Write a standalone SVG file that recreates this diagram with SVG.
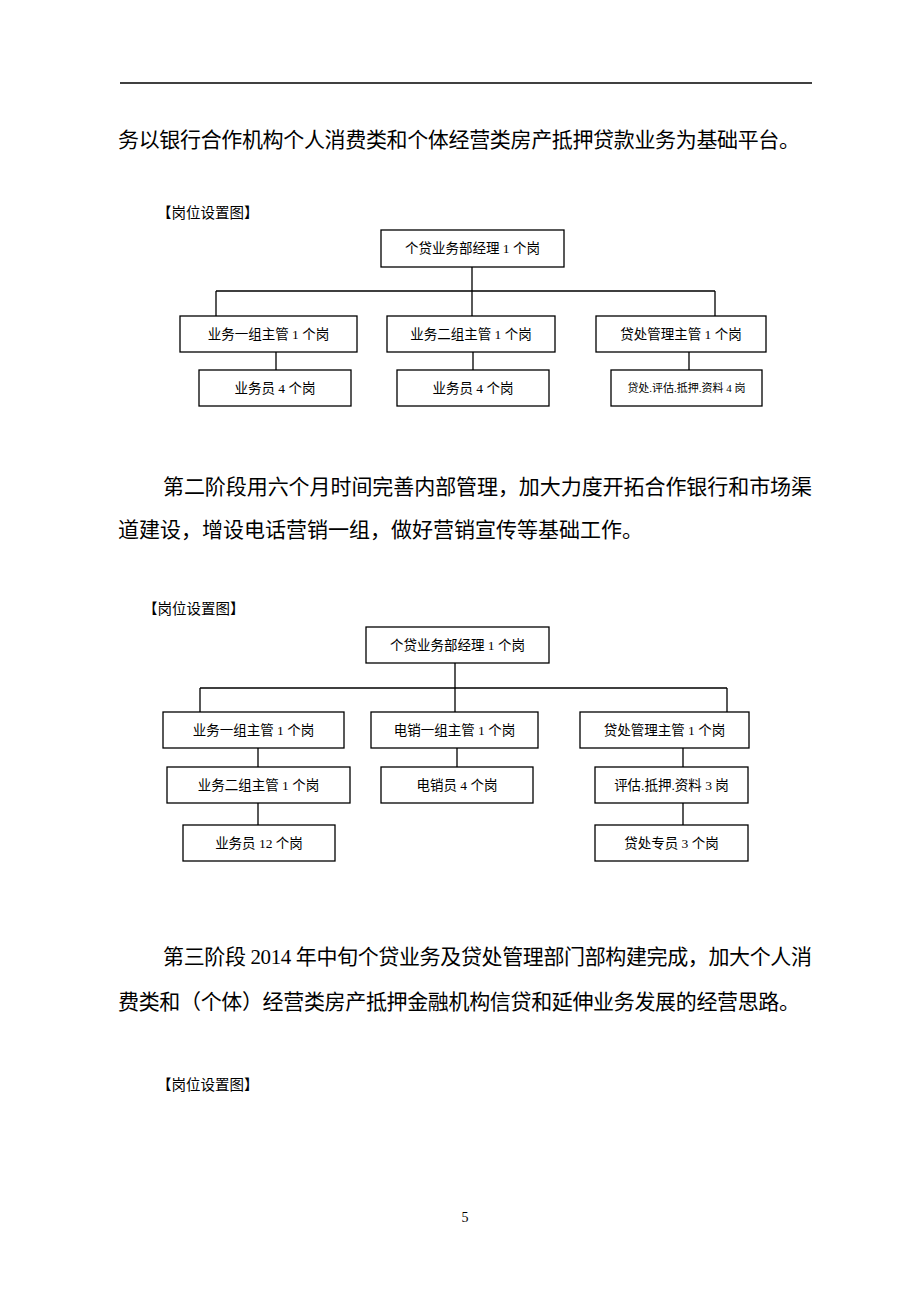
<svg xmlns="http://www.w3.org/2000/svg" width="920" height="1302" viewBox="0 0 920 1302">
<style>
text{font-family:"Liberation Serif","Noto Sans CJK SC",serif;fill:#000}
.p{font-size:21px}
.lbl{font-size:14.5px}
.nt{font-size:13.5px;text-anchor:middle;dominant-baseline:central}
.ns{font-size:11px;text-anchor:middle;dominant-baseline:central}
.box{fill:#fff;stroke:#000;stroke-width:1.3}
.con{fill:none;stroke:#000;stroke-width:1.3}
</style>
<rect width="920" height="1302" fill="#fff"/>
<line x1="120" y1="83" x2="812" y2="83" stroke="#000" stroke-width="1.5"/>
<text class="p" x="118" y="147" textLength="682" lengthAdjust="spacing">务以银行合作机构个人消费类和个体经营类房产抵押贷款业务为基础平台。</text>

<!-- Diagram 1 -->
<text class="lbl" x="157" y="218">【岗位设置图】</text>
<g id="d1-connectors" class="con">
<path d="M472 267V291M216 291H715M216 291V316M472 291V316M715 291V316"/>
<path d="M276 352V370M473 352V370M689 352V370"/>
</g>
<g id="d1-top"><rect class="box" x="381" y="230" width="183" height="37"/><text class="nt" x="472.5" y="248.5">个贷业务部经理 1 个岗</text></g>
<g id="d1-a"><rect class="box" x="180" y="316" width="177" height="36"/><text class="nt" x="268.5" y="334">业务一组主管 1 个岗</text></g>
<g id="d1-b"><rect class="box" x="387" y="316" width="168" height="36"/><text class="nt" x="471" y="334">业务二组主管 1 个岗</text></g>
<g id="d1-c"><rect class="box" x="596" y="316" width="170" height="36"/><text class="nt" x="681" y="334">贷处管理主管 1 个岗</text></g>
<g id="d1-a1"><rect class="box" x="199" y="370" width="152" height="36"/><text class="nt" x="275" y="388">业务员 4 个岗</text></g>
<g id="d1-b1"><rect class="box" x="397" y="370" width="152" height="36"/><text class="nt" x="473" y="388">业务员 4 个岗</text></g>
<g id="d1-c1"><rect class="box" x="611" y="370" width="151" height="36"/><text class="ns" x="686.5" y="388">贷处.评估.抵押.资料 4 岗</text></g>

<text class="p" x="163" y="494" textLength="649" lengthAdjust="spacing">第二阶段用六个月时间完善内部管理，加大力度开拓合作银行和市场渠</text>
<text class="p" x="118" y="537">道建设，增设电话营销一组，做好营销宣传等基础工作。</text>

<!-- Diagram 2 -->
<text class="lbl" x="143" y="614">【岗位设置图】</text>
<g id="d2-connectors" class="con">
<path d="M455 663V688M200 688H727M200 688V712M455 688V712M727 688V712"/>
<path d="M258 748V767M457 748V767M683 748V767"/>
<path d="M258 803V825M683 803V825"/>
</g>
<g id="d2-top"><rect class="box" x="366" y="627" width="183" height="36"/><text class="nt" x="457.5" y="645">个贷业务部经理 1 个岗</text></g>
<g id="d2-a"><rect class="box" x="163" y="712" width="181" height="36"/><text class="nt" x="253.5" y="730">业务一组主管 1 个岗</text></g>
<g id="d2-b"><rect class="box" x="371" y="712" width="167" height="36"/><text class="nt" x="454.5" y="730">电销一组主管 1 个岗</text></g>
<g id="d2-c"><rect class="box" x="580" y="712" width="169" height="36"/><text class="nt" x="664.5" y="730">贷处管理主管 1 个岗</text></g>
<g id="d2-a1"><rect class="box" x="167" y="767" width="183" height="36"/><text class="nt" x="258.5" y="785">业务二组主管 1 个岗</text></g>
<g id="d2-b1"><rect class="box" x="381" y="767" width="152" height="36"/><text class="nt" x="457" y="785">电销员 4 个岗</text></g>
<g id="d2-c1"><rect class="box" x="595" y="767" width="153" height="36"/><text class="nt" x="671.5" y="785">评估.抵押.资料 3 岗</text></g>
<g id="d2-a2"><rect class="box" x="183" y="825" width="152" height="36"/><text class="nt" x="259" y="843">业务员 12 个岗</text></g>
<g id="d2-c2"><rect class="box" x="595" y="825" width="153" height="36"/><text class="nt" x="671.5" y="843">贷处专员 3 个岗</text></g>

<text class="p" x="163" y="964" textLength="649" lengthAdjust="spacing">第三阶段 2014 年中旬个贷业务及贷处管理部门部构建完成，加大个人消</text>
<text class="p" x="118" y="1009" textLength="682" lengthAdjust="spacing">费类和（个体）经营类房产抵押金融机构信贷和延伸业务发展的经营思路。</text>
<text class="lbl" x="157" y="1090">【岗位设置图】</text>
<text x="465" y="1222" style="font-size:14px;text-anchor:middle">5</text>
</svg>
